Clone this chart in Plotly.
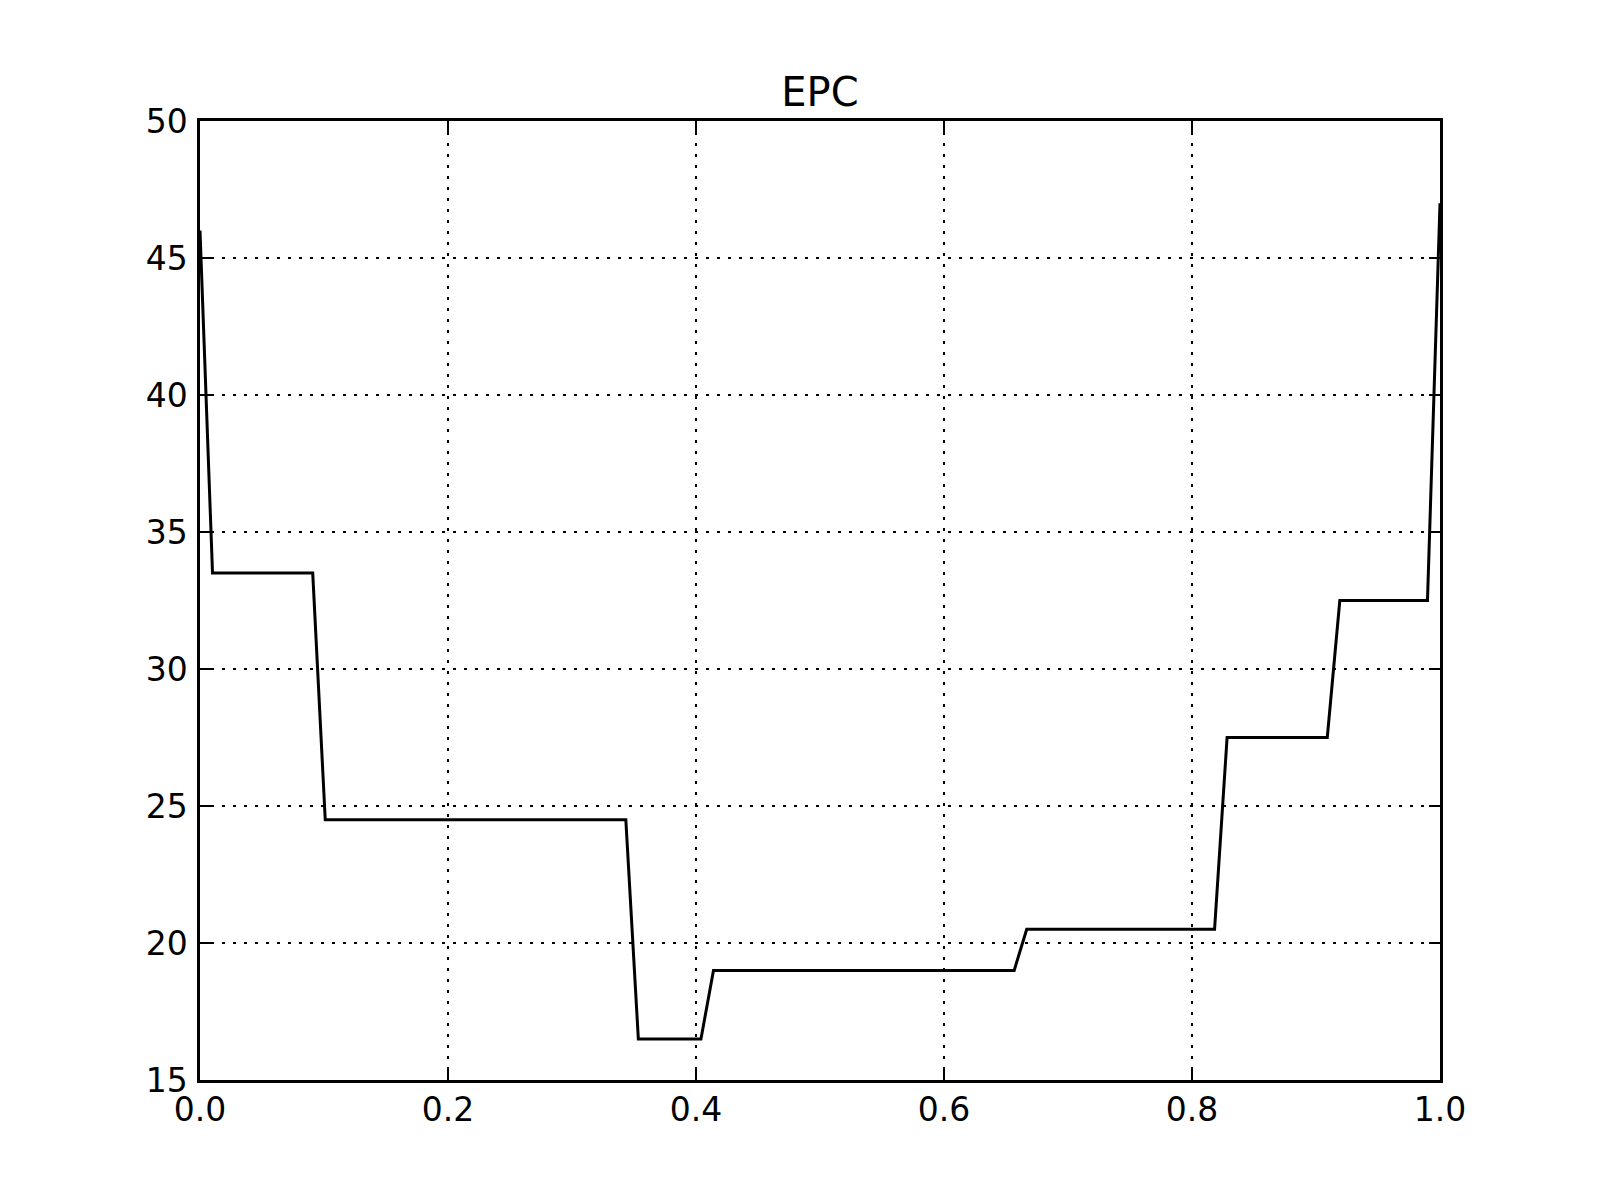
import plotly.graph_objects as go

# Breakpoints of the EPC curve (x, y)
x_vals = [0.0, 0.0101, 0.0909, 0.1010, 0.3434, 0.3535, 0.4040, 0.4141,
          0.6566, 0.6667, 0.8182, 0.8283, 0.9091, 0.9192, 0.9899, 1.0]
y_vals = [46.0, 33.5, 33.5, 24.5, 24.5, 16.5, 16.5, 19.0,
          19.0, 20.5, 20.5, 27.5, 27.5, 32.5, 32.5, 47.0]

x_ticks = [0.0, 0.2, 0.4, 0.6, 0.8, 1.0]
y_ticks = [15, 20, 25, 30, 35, 40, 45, 50]
title_text = "EPC"

fig = go.Figure()
fig.add_trace(go.Scatter(x=x_vals, y=y_vals, mode="lines",
                         line=dict(color="black", width=3), showlegend=False))

axis_common = dict(
    showline=True, linecolor="black", linewidth=2.5, mirror="ticks",
    ticks="inside", ticklen=11, tickwidth=2, tickcolor="black",
    showgrid=True, gridcolor="black", gridwidth=1.5, griddash="3px,8px",
    zeroline=False,
    tickfont=dict(family="DejaVu Sans", size=33, color="black"),
)

fig.update_xaxes(range=[0, 1], tickvals=x_ticks,
                 ticktext=[f"{v:.1f}" for v in x_ticks],
                 ticklabelstandoff=-1, **axis_common)
fig.update_yaxes(range=[15, 50], tickvals=y_ticks,
                 ticktext=[str(v) for v in y_ticks],
                 ticklabelstandoff=3, **axis_common)

# the page body adds an offset; compensate so the axes land at 200..1440 / 120..1080
fig.update_layout(
    width=1600, height=1200,
    margin=dict(l=192, r=168, t=113, b=128, pad=0),
    paper_bgcolor="white", plot_bgcolor="white",
    title=dict(text=title_text, x=(820 - 8) / 1600, xanchor="center",
               y=1 - 98 / 1200, yanchor="bottom",
               font=dict(family="DejaVu Sans", size=40, color="black")),
)

fig.write_html("out.html")
